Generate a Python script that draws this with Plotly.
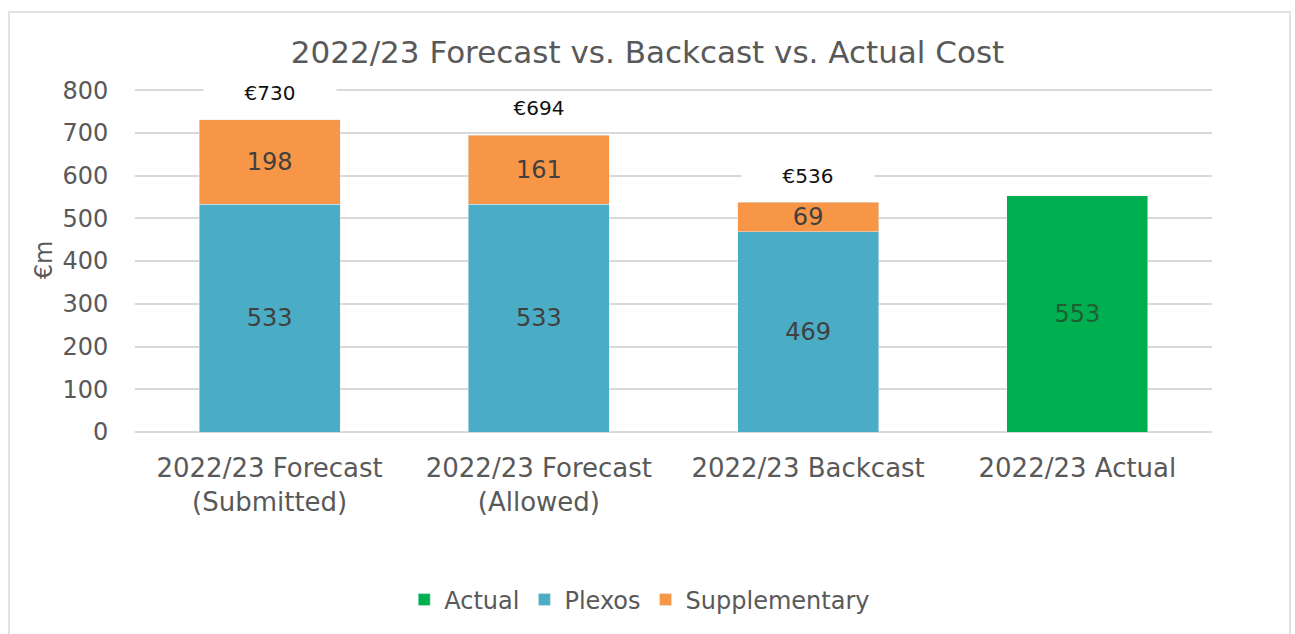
import plotly.graph_objects as go

categories = ["2022/23 Forecast<br>(Submitted)", "2022/23 Forecast<br>(Allowed)",
              "2022/23 Backcast", "2022/23 Actual"]
actual = [None, None, None, 553]
plexos = [533, 533, 469, None]
supplementary = [198, 161, 69, None]
total_labels = ["€730", "€694", "€536"]
total_values = [730, 694, 536]

FONT = "DejaVu Sans"
GREY = "#595959"
TXT = "#404040"

fig = go.Figure()
fig.add_trace(go.Bar(name="Actual", x=categories, y=actual, marker_color="#00b050",
                     text=actual, textposition="inside", insidetextanchor="middle",
                     textfont=dict(size=24, color="#1e5e32", family=FONT)))
fig.add_trace(go.Bar(name="Plexos", x=categories, y=plexos, marker_color="#4bacc6",
                     text=plexos, textposition="inside", insidetextanchor="middle",
                     textfont=dict(size=24, color=TXT, family=FONT)))
fig.add_trace(go.Bar(name="Supplementary", x=categories, y=supplementary, marker_color="#f79646",
                     text=supplementary, textposition="inside", insidetextanchor="middle",
                     textfont=dict(size=24, color=TXT, family=FONT)))

for c, v, t in zip(categories, total_values, total_labels):
    fig.add_annotation(x=c, y=v, text=t, showarrow=False, yanchor="bottom", yshift=13,
                       width=130, height=24, bgcolor="white",
                       font=dict(size=20, color="#111111", family=FONT))

# outer chart border
L, R, T, B = 135, 83, 88, 202
W, H = 1295, 634
pw, ph = W - L - R, H - T - B
fig.add_shape(type="rect", xref="paper", yref="paper",
              x0=(9 - L) / pw, x1=(1290 - L) / pw,
              y0=(T + ph - 640) / ph, y1=(T + ph - 12) / ph,
              line=dict(color="#d9d9d9", width=1.5), fillcolor="rgba(0,0,0,0)", layer="below")

fig.update_layout(
    width=W, height=H,
    margin=dict(l=L, r=R, t=T, b=B),
    barmode="stack", bargap=0.476,
    plot_bgcolor="white", paper_bgcolor="white",
    font=dict(family=FONT, color=GREY),
    title=dict(text="2022/23 Forecast vs. Backcast vs. Actual Cost", x=0.5, xanchor="center",
               y=1 - 52 / H, yanchor="middle", yref="container",
               font=dict(size=31, color=GREY, family=FONT)),
    uniformtext=dict(minsize=24, mode="show"),
    legend=dict(orientation="h", x=0.494, xanchor="center", xref="container",
                y=1 - 600 / H, yanchor="middle", yref="container",
                font=dict(size=24, color=GREY, family=FONT), traceorder="normal"),
    yaxis=dict(range=[0, 805], tickvals=[0, 100, 200, 300, 400, 500, 600, 700, 800],
               showgrid=True, gridcolor="#d9d9d9", gridwidth=1.5,
               zeroline=True, zerolinecolor="#d9d9d9", zerolinewidth=1.5,
               ticks="outside", ticklen=21, tickcolor="rgba(0,0,0,0)",
               tickfont=dict(size=24, color=GREY, family=FONT),
               title=dict(text="€m", font=dict(size=24, color=GREY, family=FONT), standoff=2)),
    xaxis=dict(showgrid=False, showline=False,
               ticks="outside", ticklen=13, tickcolor="rgba(0,0,0,0)",
               tickfont=dict(size=26, color=GREY, family=FONT)),
)

fig.write_html("out.html")
